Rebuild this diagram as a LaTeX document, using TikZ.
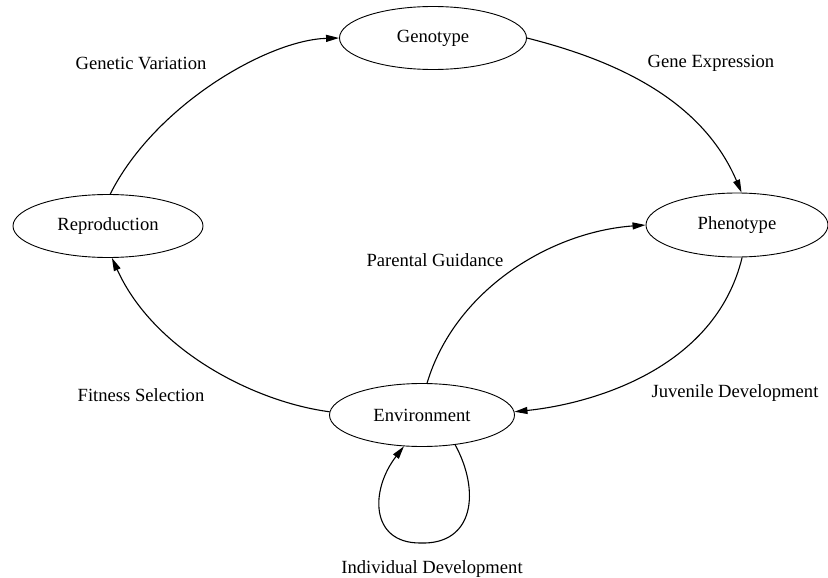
\documentclass[tikz,border=0pt]{standalone}
\usepackage{fontspec}
\setmainfont{Liberation Serif}
\usetikzlibrary{shapes.geometric,arrows.meta}

\tikzset{
  state/.style={draw, ellipse, line width=0.9pt, inner sep=0pt,
    minimum width=187pt, minimum height=63pt},
  lbl/.style={inner sep=0pt},
  edge/.style={line width=1.1pt, -{Triangle[length=13pt,width=7pt]}},
}

\begin{document}
\begin{tikzpicture}[x=1pt, y=-1pt, font=\fontsize{18.6}{22}\selectfont]
\useasboundingbox (0,0) rectangle (828,578);

% states
\node[state] (gen) at (433,38) {Genotype};
\node[state, minimum width=190pt] (rep) at (108,226) {Reproduction};
\node[state, minimum width=182pt, minimum height=64pt] (phen) at (737,225) {Phenotype};
\node[state, minimum width=185pt] (env) at (422,415) {Environment};

% transition labels
\node[lbl] (lgv) at (141,63) {Genetic Variation};
\node[lbl] (lge) at (711,63) {Gene Expression};
\node[lbl] (lpg) at (435,260) {Parental Guidance};
\node[lbl] (lfs) at (141,395) {Fitness Selection};
\node[lbl] (ljd) at (735,393) {Juvenile Development};
\node[lbl] (lid) at (432,569) {Individual Development};

% transitions
\draw[edge] (rep.86) .. controls (155,105) and (268,40) .. (gen.west);
\draw[edge] (gen.east) .. controls (606,58) and (700,95) .. (phen.82);
\draw[edge] (phen.-81) .. controls (715,370) and (590,404) .. (env.2);
\draw[edge] (env.178) .. controls (255,402) and (154,351) .. (rep.-83);
\draw[edge] (env.81) .. controls (455,290) and (550,232) .. (phen.west);
\draw[edge] (env.-42) .. controls (480,490) and (475,545) .. (420,543)
  .. controls (370,543) and (370,490) .. (env.-120);
\end{tikzpicture}
\end{document}
